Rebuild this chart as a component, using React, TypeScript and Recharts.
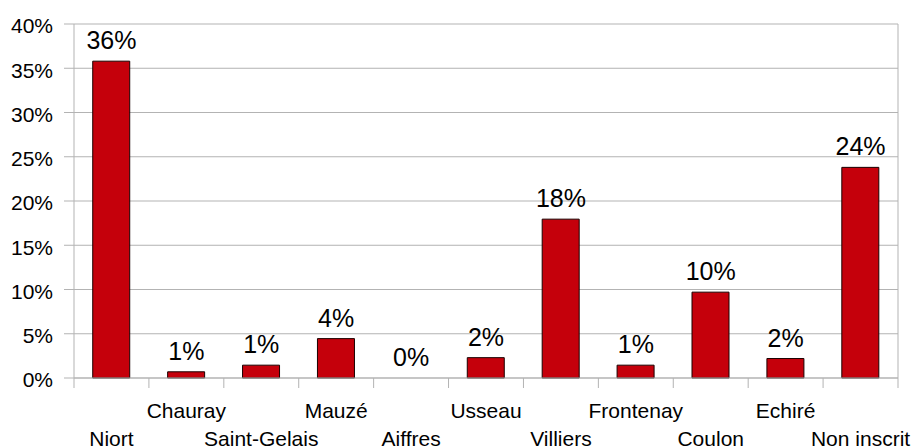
import React from 'react';
import { ComposedChart, Bar, Line, XAxis, YAxis, CartesianGrid, LabelList } from 'recharts';

const categories = ['Niort', 'Chauray', 'Saint-Gelais', 'Mauzé', 'Aiffres', 'Usseau', 'Villiers', 'Frontenay', 'Coulon', 'Echiré', 'Non inscrit'];
const shares = [0.358, 0.007, 0.0145, 0.0445, 0, 0.023, 0.1795, 0.0145, 0.097, 0.022, 0.238];
const yTicks = [0, 0.05, 0.1, 0.15, 0.2, 0.25, 0.3, 0.35, 0.4];

const data = categories.map((name, i) => ({ name, value: shares[i] }));

const W = 913;
const H = 447;
const LEFT = 74;
const RIGHT = 15;
const BAND = (W - LEFT - RIGHT) / categories.length;
const GRID = '#b3b3b3';
const FONT = '"Liberation Sans", Arial, sans-serif';

const pct = (v: number) => `${Math.round(v * 100)}%`;

const CatTick = (props: any) => {
  const { x, y, payload } = props;
  const i = payload.index;
  const axisY = y - 10;
  const row = i % 2 === 0 ? 58 : 30;
  return (
    <g>
      <line x1={x - BAND / 2} x2={x - BAND / 2} y1={axisY} y2={axisY + 10} stroke={GRID} strokeWidth={1} />
      {i === categories.length - 1 && (
        <line x1={x + BAND / 2} x2={x + BAND / 2} y1={axisY} y2={axisY + 10} stroke={GRID} strokeWidth={1} />
      )}
      <text x={x} y={y + row} textAnchor="middle" fontSize={21} fontFamily={FONT} fill="#000">
        {payload.value}
      </text>
    </g>
  );
};

export default function App() {
  return (
    <div style={{ position: 'absolute', left: 0, top: 0, width: W, height: H, background: '#fff' }}>
      <ComposedChart
        width={W}
        height={H}
        data={data}
        margin={{ top: 24, right: 0, left: 0, bottom: 0 }}
        barCategoryGap="25%"
      >
        <CartesianGrid yAxisId="left" vertical={false} stroke={GRID} strokeWidth={1} />
        <XAxis
          dataKey="name"
          interval={0}
          height={69}
          tickSize={10}
          tickMargin={0}
          tickLine={{ stroke: 'none' }}
          axisLine={{ stroke: GRID }}
          tick={<CatTick />}
        />
        <YAxis
          yAxisId="left"
          width={LEFT}
          domain={[0, 0.4]}
          ticks={yTicks}
          tickFormatter={pct}
          tickSize={10}
          tickMargin={11}
          tickLine={{ stroke: GRID }}
          axisLine={{ stroke: GRID }}
          tick={{ fontSize: 21, fontFamily: FONT, fill: '#000', dy: 2 }}
        />
        <YAxis
          yAxisId="right"
          orientation="right"
          width={RIGHT}
          domain={[0, 0.4]}
          tick={false}
          tickLine={false}
          axisLine={{ stroke: GRID }}
        />
        <Bar yAxisId="left" dataKey="value" fill="#c5000b" stroke="#1a0000" strokeWidth={1} isAnimationActive={false} />
        <Line
          yAxisId="left"
          dataKey="value"
          stroke="none"
          dot={false}
          activeDot={false}
          isAnimationActive={false}
        >
          <LabelList
            dataKey="value"
            position="top"
            offset={12}
            formatter={(v: any) => pct(Number(v))}
            style={{ fontSize: 25, fontFamily: FONT, fill: '#000' }}
          />
        </Line>
      </ComposedChart>
    </div>
  );
}
